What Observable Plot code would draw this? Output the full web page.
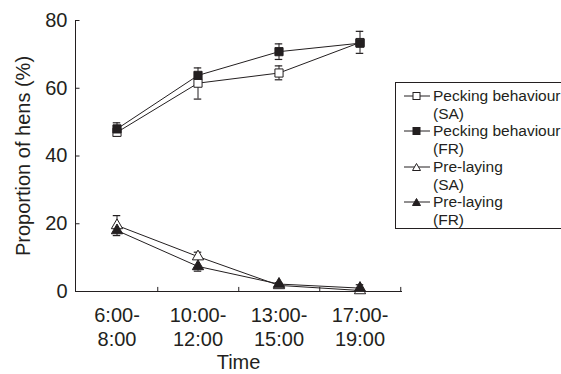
<!DOCTYPE html>
<html>
<head>
<meta charset="utf-8">
<script src="https://cdn.jsdelivr.net/npm/d3@7"></script>
<script src="https://cdn.jsdelivr.net/npm/@observablehq/plot@0.6"></script>
<style>
  html, body { margin: 0; padding: 0; background: #fff; overflow: hidden; }
  #wrap { position: relative; width: 561px; height: 374px; overflow: hidden; font-family: "Liberation Sans", Arial, Helvetica, sans-serif; color: #231f20; }
  #legend { position: absolute; left: 395px; top: 82px; width: 200px; height: 147px; border: 1px solid #231f20; box-sizing: border-box; background: #fff; }
  .row { position: absolute; left: 0; font-size: 15.5px; white-space: nowrap; line-height: 1; }
  .row span { position: absolute; left: 37px; transform: translateY(-50%); }
  .row svg { position: absolute; left: 8px; top: -6px; }
</style>
</head>
<body>
<div id="wrap"></div>
<script>
const times = ["6:00-\n8:00", "10:00-\n12:00", "13:00-\n15:00", "17:00-\n19:00"];
const yTicks = [0, 20, 40, 60, 80];
const seriesNames = ["Pecking behaviour (SA)", "Pecking behaviour (FR)", "Pre-laying (SA)", "Pre-laying (FR)"];

const peckSA   = [47.0, 61.5, 64.5, 73.5];
const peckSAlo = [45.8, 56.8, 62.5, 70.3];
const peckSAhi = [47.0, 61.5, 66.6, 73.5];

const peckFR   = [48.0, 63.8, 70.8, 73.3];
const peckFRlo = [48.0, 63.8, 68.5, 73.3];
const peckFRhi = [49.8, 66.0, 73.1, 76.8];

const preSA   = [19.5, 10.3, 1.8, 0.3];
const preSAlo = [19.5, 10.3, 1.8, 0.3];
const preSAhi = [22.4, 11.6, 2.6, 0.3];

const preFR   = [18.0, 7.4, 2.2, 1.0];
const preFRlo = [16.5, 6.0, 1.5, 1.0];
const preFRhi = [18.0, 7.4, 2.2, 2.0];

const ink = "#231f20";
const font = "'Liberation Sans', Arial, Helvetica, sans-serif";

function build(name, vals, lo, hi, shape, fill) {
  return vals.map((v, i) => ({series: name, time: times[i], v, lo: lo[i], hi: hi[i], shape, fill}));
}
const rows = [
  ...build(seriesNames[0], peckSA, peckSAlo, peckSAhi, "square", "white"),
  ...build(seriesNames[1], peckFR, peckFRlo, peckFRhi, "square", ink),
  ...build(seriesNames[2], preSA, preSAlo, preSAhi, "triangle", "white"),
  ...build(seriesNames[3], preFR, preFRlo, preFRhi, "triangle", ink)
];

const W = 561, H = 374, mL = 75, mR = 160, mT = 20, mB = 83;
const bw = (W - mL - mR) / times.length;
const capInset = (bw - 8) / 2;

const chart = Plot.plot({
  width: W, height: H,
  marginLeft: mL, marginRight: mR, marginTop: mT, marginBottom: mB,
  style: {fontFamily: font, color: ink, background: "white", overflow: "visible"},
  x: {type: "band", domain: times, padding: 0, axis: null},
  y: {domain: [0, 80], axis: null},
  marks: [
    Plot.frame({anchor: "left", stroke: ink}),
    Plot.frame({anchor: "bottom", stroke: ink}),
    Plot.tickY(yTicks, {y: d => d, x: () => times[0], insetRight: bw - 4, stroke: ink}),
    Plot.ruleX(times, {x: d => d, dx: bw / 2, y1: 0, y2: 1.2, stroke: ink}),
    Plot.axisY({ticks: yTicks, tickSize: 0, tickPadding: 8, label: null, fontSize: 20, tickFormat: d => d}),
    Plot.text(times, {x: d => d, y: () => 0, text: d => d, dy: 13, lineAnchor: "top", lineHeight: 1.22, fontSize: 20, fill: ink}),
    Plot.text(["Time"], {frameAnchor: "bottom", text: d => d, dy: 71, lineAnchor: "middle", fontSize: 20, fill: ink}),
    Plot.text(["Proportion of hens (%)"], {frameAnchor: "left", text: d => d, dx: -52, rotate: -90, textAnchor: "middle", lineAnchor: "middle", fontSize: 20, fill: ink}),
    Plot.ruleX(rows, {x: "time", y1: "lo", y2: "hi", stroke: ink, strokeWidth: 1}),
    Plot.tickY(rows.filter(d => d.lo < d.v), {x: "time", y: "lo", insetLeft: capInset, insetRight: capInset, stroke: ink, strokeWidth: 1.2}),
    Plot.tickY(rows.filter(d => d.hi > d.v), {x: "time", y: "hi", insetLeft: capInset, insetRight: capInset, stroke: ink, strokeWidth: 1.2}),
    Plot.line(rows, {x: "time", y: "v", z: "series", stroke: ink, strokeWidth: 1}),
    Plot.dot(rows.filter(d => d.shape === "square"), {x: "time", y: "v", symbol: "square", fill: "fill", stroke: ink, strokeWidth: 1, r: 4.6}),
    Plot.dot(rows.filter(d => d.shape === "triangle"), {x: "time", y: "v", symbol: "triangle", fill: "fill", stroke: ink, strokeWidth: 1, r: 4.2})
  ]
});

const wrap = document.getElementById("wrap");
wrap.appendChild(chart);

const legend = document.createElement("div");
legend.id = "legend";
const legendItems = [
  {lines: ["Pecking behaviour", "(SA)"], shape: "square", fill: "white"},
  {lines: ["Pecking behaviour", "(FR)"], shape: "square", fill: ink},
  {lines: ["Pre-laying", "(SA)"], shape: "triangle", fill: "white"},
  {lines: ["Pre-laying", "(FR)"], shape: "triangle", fill: ink}
];
const rowStep = 17.7;
legendItems.forEach((item, i) => {
  item.lines.forEach((txt, j) => {
    const y = 13 + (i * 2 + j) * rowStep;
    const row = document.createElement("div");
    row.className = "row";
    row.style.top = y + "px";
    if (j === 0) {
      const sym = item.shape === "square"
        ? `<rect x="9" y="2.5" width="7" height="7" fill="${item.fill}" stroke="${ink}" stroke-width="1"/>`
        : `<path d="M12.5,2.5 L16.5,9.5 L8.5,9.5 Z" fill="${item.fill}" stroke="${ink}" stroke-width="1"/>`;
      row.innerHTML = `<svg width="26" height="12"><line x1="0" x2="26" y1="6" y2="6" stroke="${ink}" stroke-width="1"/>${sym}</svg>`;
    }
    const span = document.createElement("span");
    span.textContent = txt;
    row.appendChild(span);
    legend.appendChild(row);
  });
});
wrap.appendChild(legend);
</script>
</body>
</html>
